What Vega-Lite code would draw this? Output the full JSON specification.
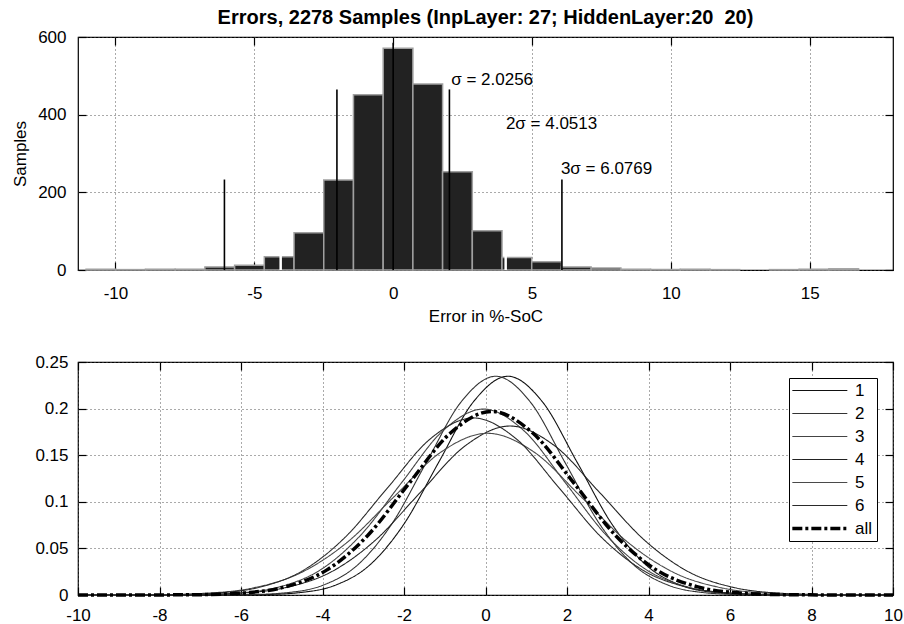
{
  "$schema": "https://vega.github.io/schema/vega-lite/v6.json",
  "background": "white",
  "padding": {"left": 11, "top": 7, "right": 0, "bottom": 0},
  "bounds": "flush",
  "spacing": 92,
  "config": {
    "font": "Liberation Sans",
    "view": {"stroke": "black", "strokeWidth": 1.2},
    "axis": {
      "labelFont": "Liberation Sans", "labelFontSize": 17, "labelColor": "black", "labelFlush": false,
      "labelExpr": "replace(datum.label, '\u2212', '-')",
      "titleFont": "Liberation Sans", "titleFontSize": 17, "titleFontWeight": "normal", "titleColor": "black",
      "domain": false, "tickColor": "black", "tickSize": -8, "tickWidth": 1.2,
      "gridColor": "#555555", "gridDash": [1, 3], "gridWidth": 1, "labelPadding": 16
    }
  },
  "datasets": {
    "hist": [
      {"start": -11.06, "end": -9.99, "count": 2},
      {"start": -9.99, "end": -8.92, "count": 1},
      {"start": -8.92, "end": -7.85, "count": 2},
      {"start": -7.85, "end": -6.78, "count": 2},
      {"start": -6.78, "end": -5.71, "count": 8},
      {"start": -5.71, "end": -4.64, "count": 12},
      {"start": -4.64, "end": -3.57, "count": 34},
      {"start": -3.57, "end": -2.5, "count": 96},
      {"start": -2.5, "end": -1.43, "count": 232},
      {"start": -1.43, "end": -0.36, "count": 451},
      {"start": -0.36, "end": 0.71, "count": 571},
      {"start": 0.71, "end": 1.78, "count": 479},
      {"start": 1.78, "end": 2.85, "count": 253},
      {"start": 2.85, "end": 3.92, "count": 101},
      {"start": 3.92, "end": 4.99, "count": 32},
      {"start": 4.99, "end": 6.06, "count": 21},
      {"start": 6.06, "end": 7.13, "count": 8},
      {"start": 7.13, "end": 8.2, "count": 5},
      {"start": 8.2, "end": 9.27, "count": 2},
      {"start": 9.27, "end": 10.34, "count": 1},
      {"start": 10.34, "end": 11.41, "count": 2},
      {"start": 11.41, "end": 12.48, "count": 1},
      {"start": 13.55, "end": 14.62, "count": 1},
      {"start": 14.62, "end": 15.69, "count": 2},
      {"start": 15.69, "end": 16.76, "count": 3}
    ],
    "sigma": [
      {"x": -6.0769, "h": 233},
      {"x": -2.0256, "h": 465},
      {"x": 0, "h": 585},
      {"x": 2.0256, "h": 465},
      {"x": 6.0769, "h": 233}
    ],
    "sigma2": [
      {"x": -4.0513, "h": 40},
      {"x": 4.0513, "h": 36}
    ],
    "notes": [
      {"x": 2.09, "y": 489, "label": "σ = 2.0256"},
      {"x": 4.06, "y": 375, "label": "2σ = 4.0513"},
      {"x": 6.04, "y": 259, "label": "3σ = 6.0769"}
    ],
    "curves": [
      {"series": "1", "x": -10, "y": 0}, {"series": "1", "x": -6.25, "y": 0.0001}, {"series": "1", "x": -5.4, "y": 0.0005}, {"series": "1", "x": -4.55, "y": 0.0026}, {"series": "1", "x": -3.7, "y": 0.0103}, {"series": "1", "x": -2.85, "y": 0.0318}, {"series": "1", "x": -2.0, "y": 0.0762}, {"series": "1", "x": -1.15, "y": 0.1423}, {"series": "1", "x": -0.3, "y": 0.2071}, {"series": "1", "x": 0.55, "y": 0.2347}, {"series": "1", "x": 1.4, "y": 0.2071}, {"series": "1", "x": 2.25, "y": 0.1423}, {"series": "1", "x": 3.1, "y": 0.0762}, {"series": "1", "x": 3.95, "y": 0.0318}, {"series": "1", "x": 4.8, "y": 0.0103}, {"series": "1", "x": 5.65, "y": 0.0026}, {"series": "1", "x": 6.5, "y": 0.0005}, {"series": "1", "x": 7.35, "y": 0.0001}, {"series": "1", "x": 10, "y": 0},
      {"series": "2", "x": -10, "y": 0}, {"series": "2", "x": -6.55, "y": 0.0001}, {"series": "2", "x": -5.7, "y": 0.0005}, {"series": "2", "x": -4.85, "y": 0.0026}, {"series": "2", "x": -4.0, "y": 0.0103}, {"series": "2", "x": -3.15, "y": 0.0318}, {"series": "2", "x": -2.3, "y": 0.0762}, {"series": "2", "x": -1.45, "y": 0.1423}, {"series": "2", "x": -0.6, "y": 0.2071}, {"series": "2", "x": 0.25, "y": 0.2347}, {"series": "2", "x": 1.1, "y": 0.2071}, {"series": "2", "x": 1.95, "y": 0.1423}, {"series": "2", "x": 2.8, "y": 0.0762}, {"series": "2", "x": 3.65, "y": 0.0318}, {"series": "2", "x": 4.5, "y": 0.0103}, {"series": "2", "x": 5.35, "y": 0.0026}, {"series": "2", "x": 6.2, "y": 0.0005}, {"series": "2", "x": 7.05, "y": 0.0001}, {"series": "2", "x": 10, "y": 0},
      {"series": "3", "x": -10, "y": 0}, {"series": "3", "x": -8.05, "y": 0.0001}, {"series": "3", "x": -7.05, "y": 0.0004}, {"series": "3", "x": -6.05, "y": 0.0022}, {"series": "3", "x": -5.05, "y": 0.0088}, {"series": "3", "x": -4.05, "y": 0.027}, {"series": "3", "x": -3.05, "y": 0.0648}, {"series": "3", "x": -2.05, "y": 0.121}, {"series": "3", "x": -1.05, "y": 0.176}, {"series": "3", "x": -0.05, "y": 0.1995}, {"series": "3", "x": 0.95, "y": 0.176}, {"series": "3", "x": 1.95, "y": 0.121}, {"series": "3", "x": 2.95, "y": 0.0648}, {"series": "3", "x": 3.95, "y": 0.027}, {"series": "3", "x": 4.95, "y": 0.0088}, {"series": "3", "x": 5.95, "y": 0.0022}, {"series": "3", "x": 6.95, "y": 0.0004}, {"series": "3", "x": 7.95, "y": 0.0001}, {"series": "3", "x": 10, "y": 0},
      {"series": "4", "x": -10, "y": 0}, {"series": "4", "x": -8.2, "y": 0.0001}, {"series": "4", "x": -7.1, "y": 0.0004}, {"series": "4", "x": -6.0, "y": 0.002}, {"series": "4", "x": -4.9, "y": 0.008}, {"series": "4", "x": -3.8, "y": 0.0245}, {"series": "4", "x": -2.7, "y": 0.0589}, {"series": "4", "x": -1.6, "y": 0.11}, {"series": "4", "x": -0.5, "y": 0.16}, {"series": "4", "x": 0.6, "y": 0.1813}, {"series": "4", "x": 1.7, "y": 0.16}, {"series": "4", "x": 2.8, "y": 0.11}, {"series": "4", "x": 3.9, "y": 0.0589}, {"series": "4", "x": 5.0, "y": 0.0245}, {"series": "4", "x": 6.1, "y": 0.008}, {"series": "4", "x": 7.2, "y": 0.002}, {"series": "4", "x": 8.3, "y": 0.0004}, {"series": "4", "x": 9.4, "y": 0.0001}, {"series": "4", "x": 10, "y": 0},
      {"series": "5", "x": -10, "y": 0}, {"series": "5", "x": -9.15, "y": 0.0001}, {"series": "5", "x": -8.0, "y": 0.0004}, {"series": "5", "x": -6.85, "y": 0.0019}, {"series": "5", "x": -5.7, "y": 0.0076}, {"series": "5", "x": -4.55, "y": 0.0235}, {"series": "5", "x": -3.4, "y": 0.0563}, {"series": "5", "x": -2.25, "y": 0.1052}, {"series": "5", "x": -1.1, "y": 0.1531}, {"series": "5", "x": 0.05, "y": 0.1735}, {"series": "5", "x": 1.2, "y": 0.1531}, {"series": "5", "x": 2.35, "y": 0.1052}, {"series": "5", "x": 3.5, "y": 0.0563}, {"series": "5", "x": 4.65, "y": 0.0235}, {"series": "5", "x": 5.8, "y": 0.0076}, {"series": "5", "x": 6.95, "y": 0.0019}, {"series": "5", "x": 8.1, "y": 0.0004}, {"series": "5", "x": 9.25, "y": 0.0001}, {"series": "5", "x": 10, "y": 0},
      {"series": "6", "x": -10, "y": 0}, {"series": "6", "x": -8.7, "y": 0.0001}, {"series": "6", "x": -7.65, "y": 0.0004}, {"series": "6", "x": -6.6, "y": 0.0021}, {"series": "6", "x": -5.55, "y": 0.0083}, {"series": "6", "x": -4.5, "y": 0.0257}, {"series": "6", "x": -3.45, "y": 0.0617}, {"series": "6", "x": -2.4, "y": 0.1152}, {"series": "6", "x": -1.35, "y": 0.1677}, {"series": "6", "x": -0.3, "y": 0.19}, {"series": "6", "x": 0.75, "y": 0.1677}, {"series": "6", "x": 1.8, "y": 0.1152}, {"series": "6", "x": 2.85, "y": 0.0617}, {"series": "6", "x": 3.9, "y": 0.0257}, {"series": "6", "x": 4.95, "y": 0.0083}, {"series": "6", "x": 6.0, "y": 0.0021}, {"series": "6", "x": 7.05, "y": 0.0004}, {"series": "6", "x": 8.1, "y": 0.0001}, {"series": "6", "x": 10, "y": 0},
      {"series": "all", "x": -10, "y": 0}, {"series": "all", "x": -7.95, "y": 0.0001}, {"series": "all", "x": -6.94, "y": 0.0004}, {"series": "all", "x": -5.93, "y": 0.0022}, {"series": "all", "x": -4.91, "y": 0.0087}, {"series": "all", "x": -3.9, "y": 0.0267}, {"series": "all", "x": -2.89, "y": 0.0639}, {"series": "all", "x": -1.88, "y": 0.1195}, {"series": "all", "x": -0.86, "y": 0.1738}, {"series": "all", "x": 0.15, "y": 0.197}, {"series": "all", "x": 1.16, "y": 0.1738}, {"series": "all", "x": 2.18, "y": 0.1195}, {"series": "all", "x": 3.19, "y": 0.0639}, {"series": "all", "x": 4.2, "y": 0.0267}, {"series": "all", "x": 5.21, "y": 0.0087}, {"series": "all", "x": 6.23, "y": 0.0022}, {"series": "all", "x": 7.24, "y": 0.0004}, {"series": "all", "x": 8.25, "y": 0.0001}, {"series": "all", "x": 10, "y": 0}
    ]
  },
  "vconcat": [
    {
      "width": 815,
      "height": 233,
      "title": {"text": "Errors, 2278 Samples (InpLayer: 27; HiddenLayer:20\u00a0\u00a020)", "font": "Liberation Sans", "fontSize": 20, "fontWeight": "bold", "color": "black", "anchor": "middle", "offset": 0},
      "layer": [
        {
          "data": {"name": "hist"},
          "mark": {"type": "rect", "fill": "#222222", "stroke": "#a0a0a0", "strokeWidth": 1.5},
          "encoding": {
            "x": {"field": "start", "type": "quantitative", "scale": {"domain": [-11.35, 18.0], "nice": false, "zero": false},
                  "axis": {"orient": "bottom", "values": [-10, -5, 0, 5, 10, 15], "title": "Error in %-SoC", "grid": true, "titlePadding": 7, "labelPadding": 23}},
            "x2": {"field": "end"},
            "y": {"field": "count", "type": "quantitative", "scale": {"domain": [0, 600], "nice": false},
                  "axis": {"orient": "left", "values": [0, 200, 400, 600], "title": "Samples", "grid": true, "titlePadding": 8, "labelPadding": 20}},
            "y2": {"datum": 0}
          }
        },
        {
          "data": {"name": "sigma2"},
          "mark": {"type": "rule", "color": "white", "strokeWidth": 2.5},
          "encoding": {
            "x": {"field": "x", "type": "quantitative", "scale": {"domain": [-11.35, 18.0], "nice": false, "zero": false}, "axis": null},
            "y": {"field": "h", "type": "quantitative", "scale": {"domain": [0, 600], "nice": false}, "axis": null},
            "y2": {"datum": 0}
          }
        },
        {
          "data": {"name": "sigma"},
          "mark": {"type": "rule", "color": "black", "strokeWidth": 1.6},
          "encoding": {
            "x": {"field": "x", "type": "quantitative", "scale": {"domain": [-11.35, 18.0], "nice": false, "zero": false},
                  "axis": {"orient": "top", "values": [-10, -5, 0, 5, 10, 15], "labels": false, "title": null, "grid": false}},
            "y": {"field": "h", "type": "quantitative", "scale": {"domain": [0, 600], "nice": false},
                  "axis": {"orient": "right", "values": [0, 200, 400, 600], "labels": false, "title": null, "grid": false}},
            "y2": {"datum": 0}
          }
        },
        {
          "data": {"name": "notes"},
          "mark": {"type": "text", "align": "left", "baseline": "middle", "font": "Liberation Sans", "fontSize": 17, "color": "black"},
          "encoding": {
            "x": {"field": "x", "type": "quantitative", "scale": {"domain": [-11.35, 18.0], "nice": false, "zero": false}, "axis": null},
            "y": {"field": "y", "type": "quantitative", "scale": {"domain": [0, 600], "nice": false}, "axis": null},
            "text": {"field": "label"}
          }
        }
      ]
    },
    {
      "width": 815,
      "height": 233,
      "layer": [
        {
          "data": {"name": "curves"},
          "transform": [{"filter": "datum.series !== 'all'"}],
          "mark": {"type": "line", "interpolate": "monotone", "strokeWidth": 1.1},
          "encoding": {
            "x": {"field": "x", "type": "quantitative", "scale": {"domain": [-10, 10], "nice": false, "zero": false},
                  "axis": {"orient": "bottom", "values": [-10, -8, -6, -4, -2, 0, 2, 4, 6, 8, 10], "title": null, "grid": true, "labelPadding": 20}},
            "y": {"field": "y", "type": "quantitative", "scale": {"domain": [0, 0.25], "nice": false},
                  "axis": {"orient": "left", "values": [0, 0.05, 0.1, 0.15, 0.2, 0.25], "format": "~g", "title": null, "grid": true, "labelPadding": 18}},
            "color": {"field": "series", "type": "nominal",
                      "scale": {"domain": ["1", "2", "3", "4", "5", "6", "all"], "range": ["#111111", "#333333", "#444444", "#222222", "#4a4a4a", "#2a2a2a", "#000000"]},
                      "legend": {"title": null, "orient": "none", "legendX": 711, "legendY": 341, "strokeColor": "black", "fillColor": "white", "padding": 4,
                                 "symbolType": "M-1,0H5", "symbolSize": 336, "labelFont": "Liberation Sans", "labelFontSize": 17, "labelColor": "black", "rowPadding": 5, "labelOffset": 45,
                                 "encode": {"symbols": {"update": {"strokeWidth": {"signal": "datum.value === 'all' ? 3.5 : 1.1"}, "fill": {"value": "transparent"}}}}}},
            "strokeDash": {"field": "series", "type": "nominal",
                           "scale": {"domain": ["1", "2", "3", "4", "5", "6", "all"], "range": [[1, 0], [1, 0], [1, 0], [1, 0], [1, 0], [1, 0], [10, 3, 3, 3]]}}
          }
        },
        {
          "data": {"name": "curves"},
          "transform": [{"filter": "datum.series === 'all'"}],
          "mark": {"type": "line", "interpolate": "monotone", "strokeWidth": 3.5},
          "encoding": {
            "x": {"field": "x", "type": "quantitative", "scale": {"domain": [-10, 10], "nice": false, "zero": false},
                  "axis": {"orient": "top", "values": [-10, -8, -6, -4, -2, 0, 2, 4, 6, 8, 10], "labels": false, "title": null, "grid": false}},
            "y": {"field": "y", "type": "quantitative", "scale": {"domain": [0, 0.25], "nice": false},
                  "axis": {"orient": "right", "values": [0, 0.05, 0.1, 0.15, 0.2, 0.25], "labels": false, "title": null, "grid": false}},
            "color": {"field": "series", "type": "nominal",
                      "scale": {"domain": ["1", "2", "3", "4", "5", "6", "all"], "range": ["#111111", "#333333", "#444444", "#222222", "#4a4a4a", "#2a2a2a", "#000000"]}},
            "strokeDash": {"field": "series", "type": "nominal",
                           "scale": {"domain": ["1", "2", "3", "4", "5", "6", "all"], "range": [[1, 0], [1, 0], [1, 0], [1, 0], [1, 0], [1, 0], [10, 3, 3, 3]]}}
          }
        }
      ]
    }
  ]
}
